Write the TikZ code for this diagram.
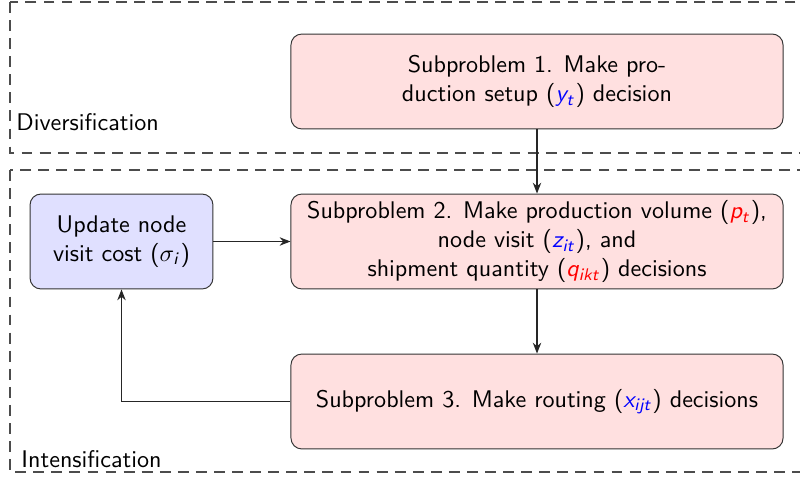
\documentclass[tikz,border=0pt]{standalone}
\usetikzlibrary{arrows.meta}
\renewcommand{\familydefault}{\sfdefault}
\DeclareMathAlphabet{\mathsfit}{OT1}{cmss}{m}{sl}
\begin{document}
\begin{tikzpicture}[x=0.415pt,y=-0.415pt,
  phase/.style={draw=black!70, dash pattern=on 4.5pt off 3pt, line width=0.5pt},
  subbox/.style={draw=black!80, fill=red!12, rounded corners=4.5pt, minimum width=204.2pt, minimum height=39.4pt, inner sep=0pt, align=center},
  updbox/.style={draw=black!80, fill=blue!12, rounded corners=4.5pt, minimum width=75.9pt, minimum height=39.4pt, inner sep=0pt, align=center},
  conn/.style={draw=black!85, line width=0.5pt, -{Stealth[length=4.5pt,width=3.5pt]}},
  lbl/.style={inner sep=0pt, anchor=base west}]
\useasboundingbox (0,0) rectangle (800,477);
\begin{scope}
\clip (0,0) rectangle (800,477);
\draw[phase] (10,2) rectangle (830,153);
\draw[phase] (10,170) rectangle (830,472);
\end{scope}
\node[lbl] (div) at (16,131) {Diversification};
\node[lbl] (int) at (21,467) {Intensification};
\node[subbox] (s1) at (537,81.5) {Subproblem 1. Make pro-\\duction setup ($\color{blue}\mathsfit{y}_{\mathsfit{t}}$) decision};
\node[subbox] (s2) at (537,241.5) {Subproblem 2. Make production volume ($\color{red}\mathsfit{p}_{\mathsfit{t}}$),\\node visit ($\color{blue}\mathsfit{z}_{\mathsfit{it}}$), and\\shipment quantity ($\color{red}\mathsfit{q}_{\mathsfit{ikt}}$) decisions};
\node[subbox] (s3) at (537,401.5) {Subproblem 3. Make routing ($\color{blue}\mathsfit{x}_{\mathsfit{ijt}}$) decisions};
\node[updbox] (upd) at (121.5,241.5) {Update node\\visit cost ($\sigma_{\mathsfit{i}}$)};
\draw[conn] (s1) -- (s2);
\draw[conn] (s2) -- (s3);
\draw[conn] (upd) -- (s2);
\draw[conn] (s3.west) -| (upd.south);
\end{tikzpicture}
\end{document}
